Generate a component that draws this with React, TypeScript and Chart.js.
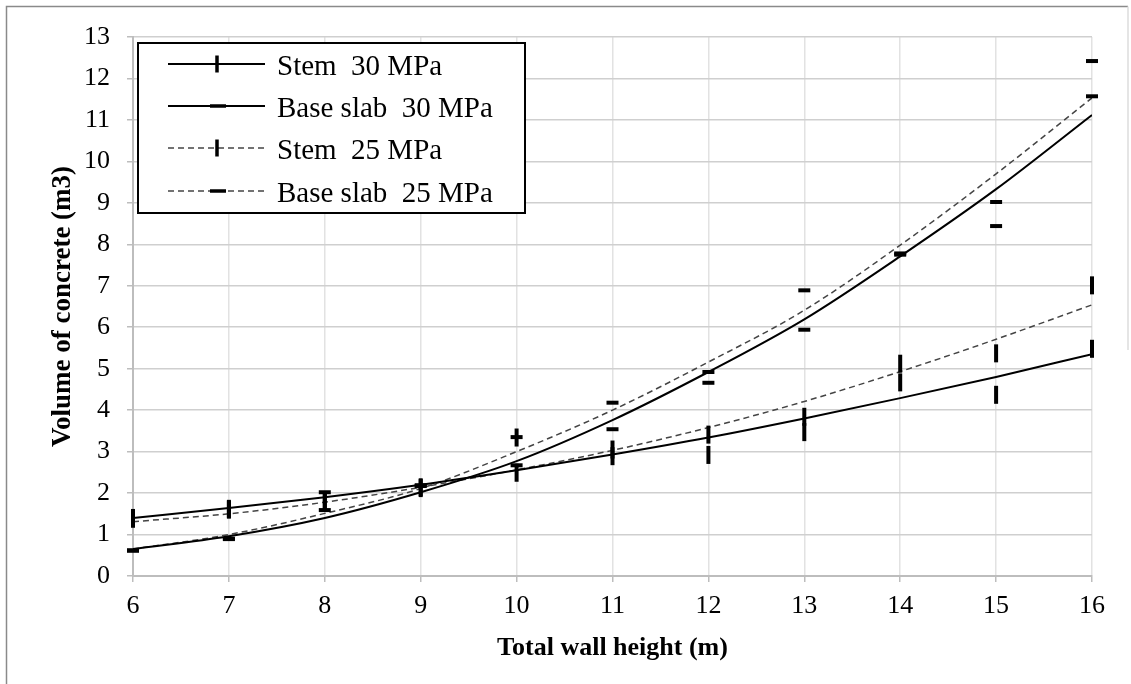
import React, { useEffect, useRef } from "react";
import { Chart, registerables } from "chart.js";

Chart.register(...registerables);

// Wall heights (m)
const heights = [6, 7, 8, 9, 10, 11, 12, 13, 14, 15, 16];

// Trend curves (m3)
const stem30Curve = [1.40, 1.64, 1.90, 2.20, 2.55, 2.93, 3.34, 3.80, 4.29, 4.80, 5.35];
const base30Curve = [0.65, 0.96, 1.40, 2.02, 2.77, 3.76, 4.92, 6.19, 7.71, 9.33, 11.12];
const stem25Curve = [1.31, 1.50, 1.78, 2.14, 2.56, 3.03, 3.58, 4.21, 4.93, 5.71, 6.54];
const base25Curve = [0.65, 1.00, 1.51, 2.11, 3.00, 4.00, 5.16, 6.41, 7.98, 9.70, 11.53];

// Computed points (markers)
const stem30Points = [1.40, 1.62, 1.82, 2.12, 2.49, 2.89, 2.92, 3.47, 4.67, 4.37, 5.48];
const base30Points = [0.61, 0.89, 1.59, 2.17, 2.67, 3.54, 4.66, 5.94, 7.75, 8.44, 11.57];
const stem25Points = [1.38, 1.60, 1.80, 2.14, 3.34, 3.05, 3.41, 3.84, 5.12, 5.37, 7.01];
const base25Points = [0.62, 0.90, 2.02, 2.19, 3.35, 4.18, 4.92, 6.89, 7.78, 9.02, 12.42];

const legendLabels = ["Stem  30 MPa", "Base slab  30 MPa", "Stem  25 MPa", "Base slab  25 MPa"];

const xTitle = "Total wall height (m)";
const yTitle = "Volume of concrete (m3)";

const SERIF = "'Liberation Serif', 'Times New Roman', serif";

const toXY = (vals: number[]) => vals.map((v, i) => ({ x: heights[i], y: v }));

const frameAndLegend = {
  id: "frameAndLegend",
  beforeDraw(chart: any) {
    const ctx = chart.ctx;
    ctx.save();
    ctx.fillStyle = "#ffffff";
    ctx.fillRect(0, 0, chart.width, chart.height);
    ctx.lineWidth = 1.5;
    ctx.strokeStyle = "#8a8a8a";
    ctx.beginPath();
    ctx.moveTo(6.5, 684);
    ctx.lineTo(6.5, 6.5);
    ctx.lineTo(1128, 6.5);
    ctx.stroke();
    ctx.strokeStyle = "#dddddd";
    ctx.beginPath();
    ctx.moveTo(1128, 6.5);
    ctx.lineTo(1128, 350);
    ctx.stroke();
    ctx.restore();
  },
  afterDraw(chart: any) {
    const ctx = chart.ctx;
    ctx.save();
    const bx = 138, by = 43, bw = 387, bh = 170;
    ctx.fillStyle = "#ffffff";
    ctx.fillRect(bx, by, bw, bh);
    ctx.lineWidth = 2;
    ctx.strokeStyle = "#000000";
    ctx.strokeRect(bx, by, bw, bh);
    const rows = [64, 106, 148, 191];
    rows.forEach((ry, i) => {
      const dashed = i >= 2;
      const stem = i % 2 === 0;
      ctx.beginPath();
      if (dashed) {
        ctx.setLineDash([6, 4]);
        ctx.strokeStyle = "#444444";
        ctx.lineWidth = 1.5;
      } else {
        ctx.setLineDash([]);
        ctx.strokeStyle = "#000000";
        ctx.lineWidth = 2;
      }
      ctx.moveTo(168, ry);
      ctx.lineTo(265, ry);
      ctx.stroke();
      ctx.setLineDash([]);
      ctx.strokeStyle = "#000000";
      ctx.lineWidth = 3.5;
      ctx.beginPath();
      if (stem) {
        ctx.moveTo(217, ry - 8.5);
        ctx.lineTo(217, ry + 8.5);
      } else {
        ctx.moveTo(210, ry);
        ctx.lineTo(226, ry);
      }
      ctx.stroke();
      ctx.fillStyle = "#000000";
      ctx.font = `29px ${SERIF}`;
      ctx.textAlign = "left";
      ctx.textBaseline = "alphabetic";
      ctx.fillText(legendLabels[i], 277, ry + 11);
    });
    ctx.restore();
  },
};

export default function App() {
  const ref = useRef<HTMLCanvasElement | null>(null);

  useEffect(() => {
    document.body.style.margin = "0";
    if (!ref.current) return;
    const curve = (data: number[], dashed: boolean) => ({
      type: "line" as const,
      data: toXY(data),
      borderColor: dashed ? "#444444" : "#000000",
      borderWidth: dashed ? 1.5 : 2,
      borderDash: dashed ? [6, 4] : [],
      pointRadius: 0,
      fill: false,
      cubicInterpolationMode: "monotone" as const,
      order: 2,
    });
    const marks = (data: number[], stem: boolean) => ({
      type: "line" as const,
      data: toXY(data),
      showLine: false,
      pointStyle: "line" as const,
      rotation: stem ? 90 : 0,
      pointRadius: stem ? 9 : 6,
      pointBorderWidth: 4,
      pointBorderColor: "#000000",
      pointBackgroundColor: "#000000",
      borderColor: "#000000",
      clip: false as any,
      order: 1,
    });
    const chart = new Chart(ref.current, {
      type: "line",
      data: {
        datasets: [
          curve(stem30Curve, false),
          curve(base30Curve, false),
          curve(stem25Curve, true),
          curve(base25Curve, true),
          marks(stem30Points, true),
          marks(base30Points, false),
          marks(stem25Points, true),
          marks(base25Points, false),
        ] as any,
      },
      options: {
        responsive: false,
        animation: false,
        layout: { padding: { top: 37, right: 39, left: 0, bottom: 0 } },
        plugins: {
          legend: { display: false },
          tooltip: { enabled: false },
        },
        scales: {
          x: {
            type: "linear",
            min: 6,
            max: 16,
            ticks: {
              stepSize: 1,
              color: "#000000",
              font: { family: SERIF, size: 26 },
              padding: 9,
            },
            grid: { color: "#e2e2e2", lineWidth: 1.5, tickLength: 6, tickColor: "#bdbdbd" },
            border: { color: "#bdbdbd", width: 2 },
            title: {
              display: true,
              text: xTitle,
              color: "#000000",
              font: { family: SERIF, size: 26, weight: "bold" },
              padding: { top: 0, bottom: 20 },
            },
            afterFit: (s: any) => {
              s.height = 108;
            },
          },
          y: {
            type: "linear",
            min: 0,
            max: 13,
            ticks: {
              stepSize: 1,
              color: "#000000",
              font: { family: SERIF, size: 26 },
              padding: 17,
            },
            grid: { color: "#cfcfcf", lineWidth: 1.5, tickLength: 6, tickColor: "#bdbdbd" },
            border: { color: "#bdbdbd", width: 2 },
            title: {
              display: true,
              text: yTitle,
              color: "#000000",
              font: { family: SERIF, size: 27, weight: "bold" },
              padding: { top: 47, bottom: 0 },
            },
            afterFit: (s: any) => {
              s.width = 133;
            },
          },
        },
      },
      plugins: [frameAndLegend],
    });
    return () => chart.destroy();
  }, []);

  return (
    <div style={{ width: 1131, height: 684 }}>
      <canvas ref={ref} width={1131} height={684} style={{ display: "block" }} />
    </div>
  );
}
